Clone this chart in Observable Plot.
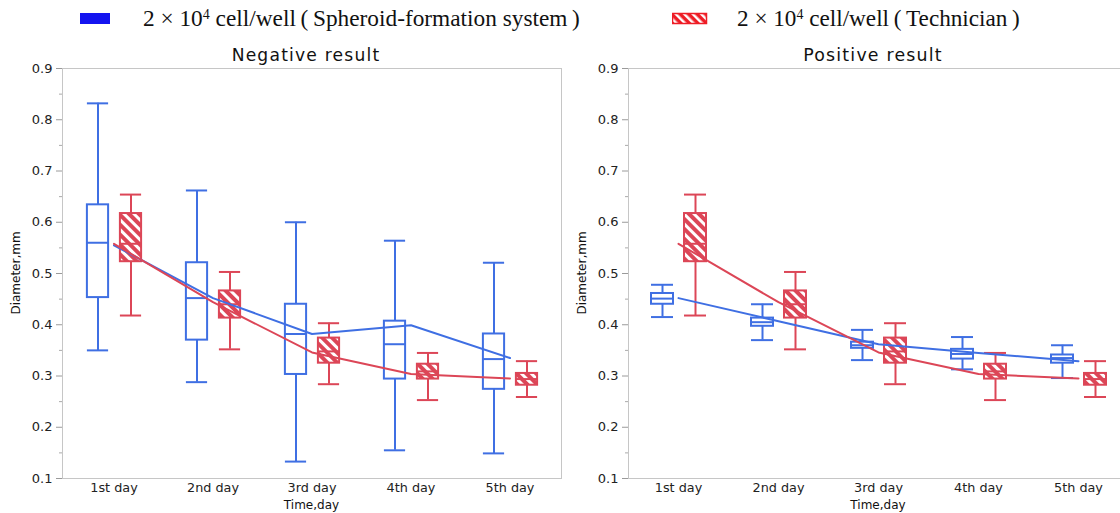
<!DOCTYPE html>
<html><head><meta charset="utf-8">
<script src="https://cdn.jsdelivr.net/npm/d3@7"></script>
<script src="https://cdn.jsdelivr.net/npm/@observablehq/plot@0.6"></script>
<style>
html,body{margin:0;padding:0;background:#fff;overflow:hidden;}
#root{position:relative;width:1120px;height:513px;overflow:hidden;background:#fff;}
.abs{position:absolute;white-space:nowrap;line-height:1;}
.legend{font-family:"Liberation Serif","DejaVu Serif",serif;font-size:21px;color:#111;}
.legend sup{font-size:0.6em;vertical-align:top;position:relative;top:0.05em;}
.title{font-family:"DejaVu Sans",sans-serif;font-size:17px;letter-spacing:1.2px;color:#111;transform:translateX(-50%);}
.axlab{font-family:"DejaVu Sans",sans-serif;font-size:12px;color:#111;}
.ylab{transform:translate(-50%,-50%) rotate(-90deg);}
.xlab{transform:translateX(-50%);}
</style></head><body><div id="root"></div>
<script>
// ---------- data ----------
const days = ["1st day", "2nd day", "3rd day", "4th day", "5th day"];
const yTicks = [0.1, 0.2, 0.3, 0.4, 0.5, 0.6, 0.7, 0.8, 0.9];
const yMinorTicks = [0.15, 0.25, 0.35, 0.45, 0.55, 0.65, 0.75, 0.85];

// Negative result - 2x10^4 cell/well (Spheroid-formation system)
const negSysMin = [0.350, 0.288, 0.133, 0.155, 0.149];
const negSysQ1  = [0.453, 0.370, 0.303, 0.294, 0.274];
const negSysMed = [0.560, 0.452, 0.382, 0.362, 0.333];
const negSysQ3  = [0.634, 0.521, 0.440, 0.407, 0.382];
const negSysMax = [0.832, 0.662, 0.600, 0.564, 0.521];
const negSysLine = [0.555, 0.452, 0.382, 0.399, 0.335];

// Positive result - 2x10^4 cell/well (Spheroid-formation system)
const posSysMin = [0.415, 0.370, 0.331, 0.313, 0.296];
const posSysQ1  = [0.440, 0.397, 0.354, 0.333, 0.325];
const posSysMed = [0.451, 0.405, 0.360, 0.343, 0.335];
const posSysQ3  = [0.461, 0.413, 0.366, 0.352, 0.341];
const posSysMax = [0.478, 0.440, 0.390, 0.376, 0.360];
const posSysLine = [0.452, 0.407, 0.362, 0.345, 0.329];

// 2x10^4 cell/well (Technician) - same in both panels
const techMin = [0.418, 0.352, 0.284, 0.253, 0.259];
const techQ1  = [0.523, 0.413, 0.325, 0.294, 0.282];
const techMed = [0.558, 0.440, 0.348, 0.309, 0.294];
const techQ3  = [0.617, 0.466, 0.374, 0.323, 0.305];
const techMax = [0.654, 0.503, 0.403, 0.345, 0.329];
const techLine = [0.558, 0.444, 0.346, 0.304, 0.295];

const legendSys = "cell/well\u2009(\u2009Spheroid-formation system\u2009)";
const legendTech = "cell/well\u2009(\u2009Technician\u2009)";
const titles = ["Negative result", "Positive result"];
const yLabel = "Diameter,mm";
const xLabel = "Time,day";

// ---------- style ----------
const BLUE = "#3f6fe3";
const RED = "#dc4657";
const BOX_W = 22;
const HEIGHT = 513, MT = 68, MB = 35;

const root = document.getElementById("root");
const NS = "http://www.w3.org/2000/svg";

function addHatch(svg, id, color) {
  const defs = document.createElementNS(NS, "defs");
  const pat = document.createElementNS(NS, "pattern");
  pat.setAttribute("id", id);
  pat.setAttribute("patternUnits", "userSpaceOnUse");
  pat.setAttribute("width", "7");
  pat.setAttribute("height", "7");
  pat.setAttribute("patternTransform", "rotate(-45)");
  const bg = document.createElementNS(NS, "rect");
  bg.setAttribute("width", "7"); bg.setAttribute("height", "7"); bg.setAttribute("fill", color);
  const st = document.createElementNS(NS, "rect");
  st.setAttribute("width", "3"); st.setAttribute("height", "7"); st.setAttribute("fill", "#fff");
  pat.appendChild(bg); pat.appendChild(st); defs.appendChild(pat);
  svg.insertBefore(defs, svg.firstChild);
}

function rowsOf(mins, q1s, meds, q3s, maxs) {
  return days.map((d, i) => ({day: d, min: mins[i], q1: q1s[i], med: meds[i], q3: q3s[i], max: maxs[i]}));
}

function boxMarks(data, color, fill, dx, inset) {
  const common = {x: "day", stroke: color, strokeWidth: 2, dx};
  return [
    Plot.ruleX(data, {...common, y1: "min", y2: "q1"}),
    Plot.ruleX(data, {...common, y1: "q3", y2: "max"}),
    Plot.tickY(data, {...common, y: "min", insetLeft: inset, insetRight: inset}),
    Plot.tickY(data, {...common, y: "max", insetLeft: inset, insetRight: inset}),
    Plot.barY(data, {...common, y1: "q1", y2: "q3", fill, insetLeft: inset, insetRight: inset}),
    Plot.tickY(data, {...common, y: "med", insetLeft: inset, insetRight: inset})
  ];
}

function fitWidth(el, target) {
  const w = el.getBoundingClientRect().width;
  const fs = parseFloat(getComputedStyle(el).fontSize);
  if (w > 0) el.style.fontSize = (fs * target / w) + "px";
}

function panel({left, width, marginLeft, marginRight, sysRows, sysLine, hatchId, title, titleX, titleW}) {
  const bw = (width - marginLeft - marginRight) / days.length;
  const inset = (bw - BOX_W) / 2;
  const techRows = rowsOf(techMin, techQ1, techMed, techQ3, techMax);
  const sysLineData = days.map((d, i) => ({day: d, v: sysLine[i]}));
  const techLineData = days.map((d, i) => ({day: d, v: techLine[i]}));
  const svg = Plot.plot({
    width, height: HEIGHT,
    marginLeft, marginRight, marginTop: MT, marginBottom: MB,
    style: {fontFamily: "DejaVu Sans, sans-serif", fontSize: "13px", color: "#222", background: "transparent"},
    x: {domain: days, padding: 0, label: null},
    y: {domain: [0.1, 0.9], label: null},
    marks: [
      Plot.frame({stroke: "#c6c6c6"}),
      Plot.axisY(yTicks, {tickSize: 6, tickPadding: 4, tickFormat: d3.format(".1f"), fontSize: 13, stroke: "#9a9a9a", label: null}),
      Plot.axisY(yMinorTicks, {tickSize: 3, text: null, stroke: "#aaaaaa", label: null}),
      Plot.axisX({tickSize: 0, tickPadding: 4, fontSize: 12.8, label: null}),
      ...boxMarks(sysRows, BLUE, "#fff", -16, inset),
      ...boxMarks(techRows, RED, `url(#${hatchId})`, 17, inset),
      Plot.lineY(sysLineData, {x: "day", y: "v", stroke: BLUE, strokeWidth: 2}),
      Plot.lineY(techLineData, {x: "day", y: "v", stroke: RED, strokeWidth: 2})
    ]
  });
  addHatch(svg, hatchId, RED);
  svg.style.position = "absolute";
  svg.style.left = left + "px";
  svg.style.top = "0px";
  root.appendChild(svg);

  const cx = left + marginLeft + (width - marginLeft - marginRight) / 2;
  const t = document.createElement("div");
  t.className = "abs title";
  t.style.left = titleX + "px"; t.style.top = "47px";
  t.textContent = title;
  root.appendChild(t);
  fitWidth(t, titleW);

  const yl = document.createElement("div");
  yl.className = "abs axlab ylab";
  yl.style.left = (left + marginLeft - 46) + "px";
  yl.style.top = (MT + (HEIGHT - MT - MB) / 2) + "px";
  yl.textContent = yLabel;
  root.appendChild(yl);

  const xl = document.createElement("div");
  xl.className = "abs axlab xlab";
  xl.style.left = cx + "px"; xl.style.top = "499px";
  xl.textContent = xLabel;
  root.appendChild(xl);
}

panel({left: 0, width: 565, marginLeft: 62, marginRight: 4,
  sysRows: rowsOf(negSysMin, negSysQ1, negSysMed, negSysQ3, negSysMax),
  sysLine: negSysLine, hatchId: "hatchNeg", title: titles[0], titleX: 306, titleW: 149});
panel({left: 560, width: 570, marginLeft: 68, marginRight: 2,
  sysRows: rowsOf(posSysMin, posSysQ1, posSysMed, posSysQ3, posSysMax),
  sysLine: posSysLine, hatchId: "hatchPos", title: titles[1], titleX: 873, titleW: 140});

// ---------- legend ----------
function legendItem(x, textX, textW, kind, label) {
  const sw = document.createElementNS(NS, "svg");
  sw.setAttribute("width", "36"); sw.setAttribute("height", "14");
  sw.style.position = "absolute"; sw.style.left = x + "px"; sw.style.top = "12px";
  if (kind === "solid") {
    sw.innerHTML = `<rect x="0" y="1" width="30" height="11" fill="#1414f0"/>`;
  } else {
    sw.innerHTML = `<defs><pattern id="hatchLeg" patternUnits="userSpaceOnUse" width="6" height="6" patternTransform="rotate(-45)"><rect width="6" height="6" fill="#ee1c25"/><rect width="2.5" height="6" fill="#fff"/></pattern></defs><rect x="0.5" y="1.5" width="34" height="10" fill="url(#hatchLeg)" stroke="#ee1c25" stroke-width="1.5"/>`;
  }
  root.appendChild(sw);
  const t = document.createElement("div");
  t.className = "abs legend";
  t.style.left = textX + "px"; t.style.top = "9px";
  t.innerHTML = `2 × 10<sup>4</sup> ${label}`;
  root.appendChild(t);
  fitWidth(t, textW);
  const h = t.getBoundingClientRect().height;
  t.style.top = (19 - h / 2) + "px";
}
legendItem(80, 143, 437, "solid", legendSys);
legendItem(672, 737, 283, "hatch", legendTech);
</script></body></html>
